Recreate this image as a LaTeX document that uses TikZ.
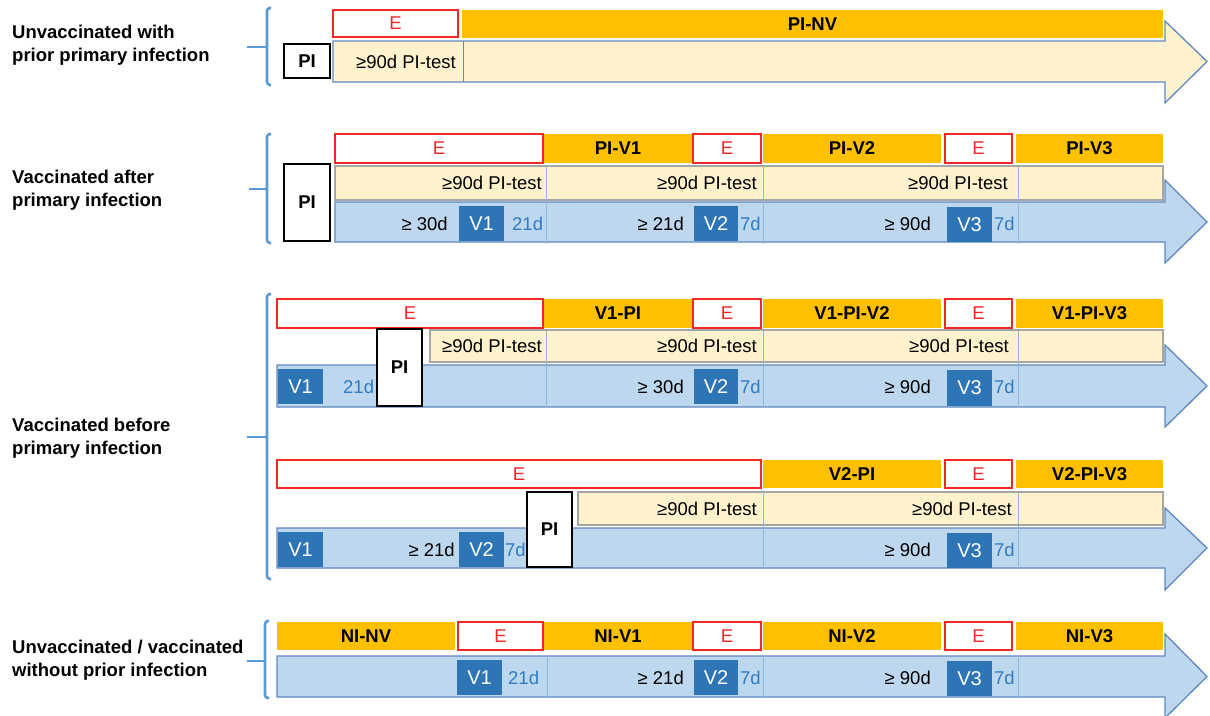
\documentclass[tikz,border=0pt]{standalone}
\usepackage{fontspec}
\setmainfont{Liberation Sans}
\definecolor{orng}{HTML}{FFC000}
\definecolor{ered}{HTML}{F02828}
\definecolor{yel}{HTML}{FFF2CC}
\definecolor{lblue}{HTML}{BDD7EE}
\definecolor{vblue}{HTML}{2E75B6}
\definecolor{dblue}{HTML}{2E7CC4}
\definecolor{arrline}{HTML}{5E88BD}
\definecolor{bandgrey}{HTML}{A6A6A6}
\definecolor{divc}{HTML}{8DB6E0}
\definecolor{brc}{HTML}{5B9BD5}
\newcommand\fsz{\fontsize{18.5}{22}\selectfont}
\newcommand\mybox[7]{\node[#1,anchor=north west,minimum width={#5-#3},minimum height={#6-#4}] (#2) at (#3,#4) {#7};}
\newcommand\myarrow[6]{\draw[#1] (#2,#3) -- (1165,#3) -- (1165,#5) -- (1207,{(#3+#4)/2}) -- (1165,#6) -- (1165,#4) -- (#2,#4) -- cycle;}
\tikzset{
 lab/.style={font=\fontsize{18.5}{23}\selectfont\bfseries, align=left, anchor=west, inner sep=0},
 ebox/.style={draw=ered, fill=white, line width=1.3pt, text=ered, font=\fsz, inner sep=0, outer sep=0},
 obox/.style={fill=orng, font=\fsz\bfseries, inner sep=0, outer sep=0},
 pibox/.style={draw=black, fill=white, line width=1.3pt, font=\fsz\bfseries, inner sep=0, outer sep=0},
 vbox/.style={fill=vblue, text=white, font=\fontsize{20}{24}\selectfont, inner sep=0, outer sep=0},
 band/.style={draw=bandgrey, fill=yel, line width=1.3pt, inner sep=0, outer sep=0},
 yarrow/.style={draw=arrline, fill=yel, line width=1.3pt},
 barrow/.style={draw=arrline, fill=lblue, line width=1.3pt},
 div/.style={draw=divc, line width=0.8pt},
 brk/.style={draw=brc, line width=2.6pt, rounded corners=3pt},
 txtl/.style={font=\fsz, inner sep=0, anchor=east},
 dtxt/.style={font=\fsz, text=dblue, inner sep=0, anchor=west},
}
\begin{document}
\begin{tikzpicture}[x=1pt,y=-1pt]
\useasboundingbox (0,0) rectangle (1210,715);
% ---------- labels ----------
\node[lab] (L1) at (12,45.5) {Unvaccinated with\\prior primary infection};
\node[lab] (L2) at (12,190) {Vaccinated after\\primary infection};
\node[lab] (L3) at (12,438.5) {Vaccinated before\\primary infection};
\node[lab] (L5) at (12,660) {Unvaccinated / vaccinated\\without prior infection};
% ---------- brackets ----------
\draw[brk] (271,8) -- (267,8) -- (267,85) -- (271,85);
\draw[brk] (247,47) -- (267,47);
\draw[brk] (271,134) -- (267,134) -- (267,243) -- (271,243);
\draw[brk] (249,189) -- (267,189);
\draw[brk] (271,294) -- (267,294) -- (267,579) -- (271,579);
\draw[brk] (247,437) -- (267,437);
\draw[brk] (269,621) -- (265,621) -- (265,698) -- (269,698);
\draw[brk] (247,661) -- (265,661);

% ================= Row 1 =================
\myarrow{yarrow}{333}{41}{82}{21}{103}
\draw[div, draw=arrline] (463,41) -- (463,82);
\node[txtl] (r1t1) at (456,62) {≥90d PI-test};
\mybox{ebox}{r1e1}{333}{10}{458}{37}{E}
\mybox{obox}{r1o1}{462}{10}{1163}{38}{PI-NV}
\mybox{pibox}{r1pi}{284}{44}{330}{78}{PI}

% ================= Row 2 =================
\myarrow{barrow}{335}{202}{242}{180}{263}
\mybox{band}{r2b}{335}{166}{1163}{200}{}
\foreach \xx in {546,763,1018} \draw[div] (\xx,166) -- (\xx,244);
\node[txtl] (r2p1) at (542,183) {≥90d PI-test};
\node[txtl] (r2p2) at (757,183) {≥90d PI-test};
\node[txtl] (r2p3) at (1008,183) {≥90d PI-test};
\node[txtl] (r2d1) at (448,224) {≥ 30d};
\mybox{vbox}{r2v1}{459}{206}{504}{241}{V1}
\node[dtxt] (r2s1) at (512,224) {21d};
\node[txtl] (r2d2) at (684,224) {≥ 21d};
\mybox{vbox}{r2v2}{694}{206}{738}{241}{V2}
\node[dtxt] (r2s2) at (740,224) {7d};
\node[txtl] (r2d3) at (931,224) {≥ 90d};
\mybox{vbox}{r2v3}{947}{207}{992}{242}{V3}
\node[dtxt] (r2s3) at (994,224) {7d};
\mybox{ebox}{r2e1}{335}{134}{543}{163}{E}
\mybox{obox}{r2o1}{544}{134}{692}{163}{PI-V1}
\mybox{ebox}{r2e2}{693}{134}{761}{163}{E}
\mybox{obox}{r2o2}{763}{134}{941}{163}{PI-V2}
\mybox{ebox}{r2e3}{945}{134}{1012}{163}{E}
\mybox{obox}{r2o3}{1016}{134}{1163}{163}{PI-V3}
\mybox{pibox}{r2pi}{284}{164}{330}{241}{PI}

% ================= Row 3 =================
\myarrow{barrow}{277}{365}{407}{345}{427}
\mybox{band}{r3b}{430}{330}{1163}{362}{}
\foreach \xx in {546,763,1018} \draw[div] (\xx,330) -- (\xx,408);
\node[txtl] (r3p1) at (542,346) {≥90d PI-test};
\node[txtl] (r3p2) at (757,346) {≥90d PI-test};
\node[txtl] (r3p3) at (1009,346) {≥90d PI-test};
\mybox{vbox}{r3v1}{278}{369}{323}{404}{V1}
\node[dtxt] (r3s1) at (343,387) {21d};
\node[txtl] (r3d2) at (684,387) {≥ 30d};
\mybox{vbox}{r3v2}{694}{369}{738}{404}{V2}
\node[dtxt] (r3s2) at (740,387) {7d};
\node[txtl] (r3d3) at (931,387) {≥ 90d};
\mybox{vbox}{r3v3}{947}{370}{992}{406}{V3}
\node[dtxt] (r3s3) at (994,387) {7d};
\mybox{ebox}{r3e1}{277}{299}{543}{328}{E}
\mybox{obox}{r3o1}{544}{299}{692}{328}{V1-PI}
\mybox{ebox}{r3e2}{693}{299}{761}{328}{E}
\mybox{obox}{r3o2}{763}{299}{941}{328}{V1-PI-V2}
\mybox{ebox}{r3e3}{945}{299}{1012}{328}{E}
\mybox{obox}{r3o3}{1016}{299}{1163}{328}{V1-PI-V3}
\mybox{pibox}{r3pi}{377}{329}{422}{406}{PI}

% ================= Row 4 =================
\myarrow{barrow}{277}{528}{568}{508}{590}
\mybox{band}{r4b}{578}{492}{1163}{525}{}
\foreach \xx in {763,1018} \draw[div] (\xx,492) -- (\xx,569);
\node[txtl] (r4p1) at (757,509) {≥90d PI-test};
\node[txtl] (r4p2) at (1012,509) {≥90d PI-test};
\mybox{vbox}{r4v1}{278}{532}{323}{567}{V1}
\node[txtl] (r4d1) at (455,550) {≥ 21d};
\mybox{vbox}{r4v2}{459}{532}{504}{567}{V2}
\node[dtxt] (r4s2) at (505,550) {7d};
\node[txtl] (r4d3) at (931,550) {≥ 90d};
\mybox{vbox}{r4v3}{947}{533}{992}{568}{V3}
\node[dtxt] (r4s3) at (994,550) {7d};
\mybox{ebox}{r4e1}{277}{460}{761}{488}{E}
\mybox{obox}{r4o1}{763}{460}{941}{488}{V2-PI}
\mybox{ebox}{r4e2}{945}{460}{1012}{488}{E}
\mybox{obox}{r4o2}{1016}{460}{1163}{488}{V2-PI-V3}
\mybox{pibox}{r4pi}{527}{492}{572}{567}{PI}

% ================= Row 5 =================
\myarrow{barrow}{277}{656}{697}{634}{718}
\foreach \xx in {547,763,1018} \draw[div] (\xx,656) -- (\xx,698);
\mybox{vbox}{r5v1}{457}{660}{502}{695}{V1}
\node[dtxt] (r5s1) at (508,678) {21d};
\node[txtl] (r5d2) at (684,678) {≥ 21d};
\mybox{vbox}{r5v2}{694}{660}{738}{695}{V2}
\node[dtxt] (r5s2) at (740,678) {7d};
\node[txtl] (r5d3) at (931,678) {≥ 90d};
\mybox{vbox}{r5v3}{947}{661}{992}{696}{V3}
\node[dtxt] (r5s3) at (994,678) {7d};
\mybox{obox}{r5o0}{277}{622}{455}{650}{NI-NV}
\mybox{ebox}{r5e1}{458}{622}{543}{650}{E}
\mybox{obox}{r5o1}{544}{622}{692}{650}{NI-V1}
\mybox{ebox}{r5e2}{693}{622}{761}{650}{E}
\mybox{obox}{r5o2}{763}{622}{941}{650}{NI-V2}
\mybox{ebox}{r5e3}{945}{622}{1012}{650}{E}
\mybox{obox}{r5o3}{1016}{622}{1163}{650}{NI-V3}
\end{tikzpicture}
\end{document}
